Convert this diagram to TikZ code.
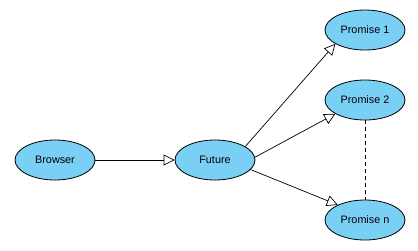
\documentclass[tikz,border=0pt]{standalone}
\usepackage{fontspec}
\setmainfont{Liberation Sans}
\usetikzlibrary{arrows.meta,shapes.geometric}
\definecolor{nodeblue}{HTML}{7ACFF5}
\tikzset{
  oval/.style={ellipse, draw=black, fill=nodeblue, line width=0.8pt,
    minimum width=80pt, minimum height=40pt, inner sep=0pt,
    font=\fontsize{10.8}{12}\selectfont},
  conn/.style={line width=0.7pt, -{Triangle[open, length=11pt, width=11pt]}},
}
\begin{document}
\begin{tikzpicture}[x=1pt,y=-1pt]
\useasboundingbox (0,0) rectangle (418,250);
\node[oval] (browser) at (55,160) {Browser};
\node[oval] (future) at (215,160) {Future};
\node[oval] (p1) at (365,30) {Promise 1};
\node[oval] (p2) at (365,100) {Promise 2};
\node[oval] (pn) at (365,220) {Promise n};
\draw[conn] (browser) -- (future);
\draw[conn] (future.24) -- (p1.205);
\draw[conn] (future.4) -- (p2.205);
\draw[conn] (future.345) -- (pn.151);
\draw[line width=0.7pt, dash pattern=on 4pt off 3pt] (p2.south) -- (pn.north);
\end{tikzpicture}
\end{document}
